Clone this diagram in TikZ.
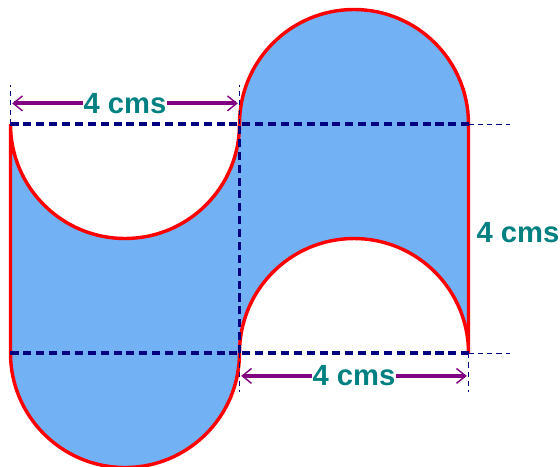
\documentclass[tikz,border=0pt]{standalone}
\usepackage{fontspec}
\setmainfont{Liberation Sans}
\usepackage{tikz}
\usetikzlibrary{positioning,arrows.meta}
\definecolor{shapeblue}{HTML}{72B2F4}
\definecolor{dimpurple}{HTML}{800080}
\definecolor{labelteal}{HTML}{008080}
\definecolor{gridnavy}{HTML}{000080}

\begin{document}
\begin{tikzpicture}[>={Straight Barb[length=1.6mm,width=2.6mm,line width=0.7pt]},
  outline/.style={draw=red,line width=1.7pt,fill=shapeblue},
  gridline/.style={gridnavy,line width=1.6pt,dash pattern=on 4pt off 2.4pt},
  guideline/.style={gridnavy,line width=0.5pt,dash pattern=on 2.6pt off 2pt},
  dimarrow/.style={dimpurple,line width=1.9pt},
  dimlabel/.style={labelteal,font=\fontsize{14.5}{16}\selectfont\bfseries,inner sep=1pt}]
\useasboundingbox (-0.183,-1.974) rectangle (9.598,6.166);
% corners of the two squares
\coordinate (a0) at (0,0);
\coordinate (a1) at (0,4);
\coordinate (b0) at (4,0);
\coordinate (b1) at (4,4);
\coordinate (c0) at (8,0);
\coordinate (c1) at (8,4);
% the shaded figure
\draw[outline] (a0) -- (a1) arc (180:360:2) arc (180:0:2) -- (c0)
  arc (0:180:2) arc (0:-180:2) -- cycle;
% dashed square sides
\draw[gridline] (a1) -- (c1);
\draw[gridline] (a0) -- (c0);
\draw[gridline] (b0) -- (b1);
% thin guides
\coordinate (ta) at (0,4.68);
\coordinate (tb) at (4,4.68);
\coordinate (bb) at (4,-0.68);
\coordinate (bc) at (8,-0.68);
\coordinate (rc1) at (8.72,4);
\coordinate (rc0) at (8.72,0);
\draw[guideline] (a1) -- (ta);
\draw[guideline] (b1) -- (tb);
\draw[guideline] (b0) -- (bb);
\draw[guideline] (c0) -- (bc);
\draw[guideline] (c1) -- (rc1);
\draw[guideline] (c0) -- (rc0);
% dimensions
\coordinate (d1) at (0.03,4.36);
\coordinate (d2) at (3.97,4.36);
\coordinate (d3) at (4.03,-0.4);
\coordinate (d4) at (7.97,-0.4);
\node[dimlabel,inner xsep=0pt] (toplab) at (2,4.36) {4 cms};
\node[dimlabel,inner xsep=0pt] (botlab) at (6,-0.4) {4 cms};
\draw[dimarrow,<-] (d1) -- (toplab);
\draw[dimarrow,->] (toplab) -- (d2);
\draw[dimarrow,<-] (d3) -- (botlab);
\draw[dimarrow,->] (botlab) -- (d4);
\node[dimlabel,anchor=west] (sidelab) at (8.1,2.1) {4 cms};
\end{tikzpicture}
\end{document}
